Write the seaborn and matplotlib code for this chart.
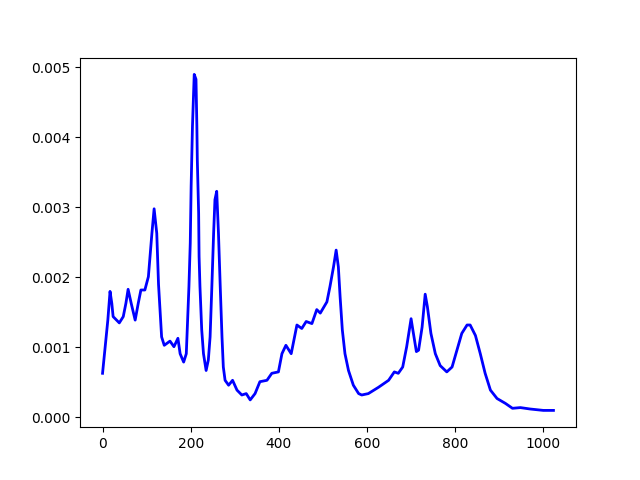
import matplotlib
matplotlib.use("Agg")
import matplotlib.pyplot as plt
import seaborn as sns
import numpy as np

# values
x_vals = [0, 6, 12, 17, 21, 24, 38, 47, 53, 58, 65, 74, 81, 87, 96, 104, 112,
          117, 123, 127, 134, 140, 153, 162, 171, 176, 184, 190, 193, 196, 199,
          201, 204, 208, 212, 214, 215, 218, 219, 221, 225, 229, 235, 240, 244,
          248, 252, 255, 259, 263, 267, 271, 274, 278, 286, 295, 305, 316, 326,
          335, 346, 357, 373, 384, 399, 407, 416, 428, 441, 452, 462, 475, 486,
          494, 509, 516, 524, 530, 535, 539, 544, 550, 558, 569, 581, 588, 603,
          626, 649, 662, 671, 681, 690, 700, 704, 712, 717, 725, 732, 737, 745,
          755, 766, 781, 793, 804, 815, 827, 834, 846, 857, 868, 880, 895, 914,
          930, 948, 970, 1000, 1023]
y_vals = [0.00063, 0.00101, 0.00139, 0.00180, 0.00163, 0.00144, 0.00135, 0.00144,
          0.00163, 0.00183, 0.00163, 0.00139, 0.00163, 0.00182, 0.00182, 0.00201,
          0.00263, 0.00298, 0.00263, 0.00190, 0.00115, 0.00103, 0.00109, 0.00101,
          0.00113, 0.00091, 0.00079, 0.00091, 0.00139, 0.00187, 0.00249,
          0.00330, 0.00416, 0.00490, 0.00483, 0.00416, 0.00368, 0.00292, 0.00230,
          0.00187, 0.00125, 0.00091, 0.00067, 0.00082, 0.00115,
          0.00187, 0.00263, 0.00311, 0.00323, 0.00263, 0.00187, 0.00115, 0.00072,
          0.00053, 0.00046, 0.00053, 0.00039, 0.00032, 0.00034,
          0.00025, 0.00034, 0.00051, 0.00053, 0.00063, 0.00065, 0.00091, 0.00103,
          0.00091, 0.00132, 0.00127, 0.00137, 0.00134, 0.00154,
          0.00149, 0.00165, 0.00187, 0.00215, 0.00239, 0.00215, 0.00172, 0.00125,
          0.00091, 0.00067, 0.00046, 0.00034, 0.00032, 0.00034,
          0.00043, 0.00053, 0.00065, 0.00063, 0.00072, 0.00101, 0.00141, 0.00125,
          0.00094, 0.00096, 0.00129, 0.00176, 0.00158, 0.00120,
          0.00091, 0.00074, 0.00065, 0.00072, 0.00096, 0.00120, 0.00132, 0.00132,
          0.00117, 0.00091, 0.00063, 0.00039, 0.00027, 0.00020,
          0.00013, 0.00014, 0.00012, 0.00010, 0.00010]

fig, ax = plt.subplots(figsize=(6.4, 4.8), dpi=100)
sns.lineplot(x=np.array(x_vals), y=np.array(y_vals), color="b", linewidth=2, ax=ax)
plt.savefig("out.png", dpi=100)
